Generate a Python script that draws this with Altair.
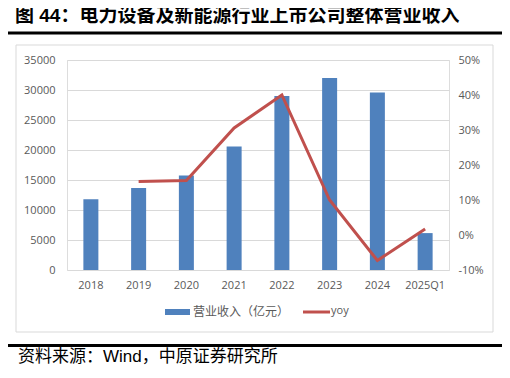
import altair as alt
import pandas as pd

categories = ["2018", "2019", "2020", "2021", "2022", "2023", "2024", "2025Q1"]
revenue = [11800, 13650, 15750, 20600, 29000, 32000, 29600, 6150]
yoy = [None, 15.3, 15.6, 30.6, 40.0, 10.0, -7.3, 1.7]

title_text = "图 44：电力设备及新能源行业上市公司整体营业收入"
source_text = "资料来源：Wind，中原证券研究所"
legend_bar = "营业收入（亿元）"
legend_line = "yoy"

df = pd.DataFrame({"cat": categories, "rev": revenue, "yoy": yoy})

W, H = 382, 210
CJK = "Noto Sans CJK SC"
MIX = "Liberation Sans, Noto Sans CJK SC"
LAT = "Open Sans"
GRAY = "#595959"
BLUE = "#4F81BD"
RED = "#C0504D"

base = alt.Chart(df).encode(
    x=alt.X("cat:N", sort=categories, title=None,
            scale=alt.Scale(paddingInner=0, paddingOuter=0),
            axis=alt.Axis(labelAngle=0, domain=False, ticks=False, labelPadding=9,
                          labelFont=LAT, labelFontSize=11, labelColor=GRAY, grid=False))
)

bars = base.mark_bar(size=15, color=BLUE).encode(
    y=alt.Y("rev:Q", title=None,
            scale=alt.Scale(domain=[0, 35000], nice=False),
            axis=alt.Axis(values=list(range(0, 35001, 5000)), format="d", domain=False,
                          ticks=False, labelPadding=12, labelFont=LAT, labelFontSize=11,
                          labelColor=GRAY, gridColor="#D9D9D9", gridWidth=1.2))
)

line = base.mark_line(color=RED, strokeWidth=3).encode(
    y=alt.Y("yoy:Q", title=None,
            scale=alt.Scale(domain=[-10, 50], nice=False),
            axis=alt.Axis(orient="right", values=[-10, 0, 10, 20, 30, 40, 50], domain=False,
                          ticks=False, grid=False, labelPadding=9, labelFont=LAT,
                          labelFontSize=11, labelColor=GRAY,
                          labelExpr="datum.value + '%'"))
)

one = alt.Data(values=[{"a": 1}])

def rule(x1, x2, y1, y2, color, width):
    return alt.Chart(one).mark_rule(color=color, strokeWidth=width).encode(
        x=alt.value(x1), x2=alt.value(x2), y=alt.value(y1), y2=alt.value(y2))

def text(t, x, y, size, color, font, weight="normal", baseline="middle"):
    return alt.Chart(one).mark_text(align="left", baseline=baseline, fontSize=size,
                                    color=color, font=font, fontWeight=weight).encode(
        x=alt.value(x), y=alt.value(y), text=alt.value(t))

frame = alt.Chart(one).mark_rect(fill=None, stroke="#D9D9D9", strokeWidth=1).encode(
    x=alt.value(-51), x2=alt.value(426), y=alt.value(-15), y2=alt.value(272))

title_line = rule(-62, 436, -27, -27, "black", 3)
source_line = rule(-62, 436, 285.5, 285.5, "black", 3)
title = text(title_text, -52, -38, 19, "black", MIX, "bold", "alphabetic")
source = text(source_text, -49, 297, 17, "black", MIX)

leg_rect = alt.Chart(one).mark_rect(color=BLUE).encode(
    x=alt.value(98), x2=alt.value(123), y=alt.value(249), y2=alt.value(255))
leg_text1 = text(legend_bar, 126, 252, 12, GRAY, CJK)
leg_line = rule(236, 263, 252, 252, RED, 3)
leg_text2 = text(legend_line, 264, 251, 11, GRAY, LAT)

chart = alt.layer(
    frame, bars, line, title_line, source_line, title, source,
    leg_rect, leg_text1, leg_line, leg_text2
).resolve_scale(y="independent").properties(
    width=W, height=H,
    autosize=alt.AutoSizeParams(type="none"),
    padding={"left": 59, "top": 52, "right": 53, "bottom": 100},
).configure_view(stroke=None).configure(background="white")

chart.save("out.html", embed_options={"renderer": "svg", "actions": False})
